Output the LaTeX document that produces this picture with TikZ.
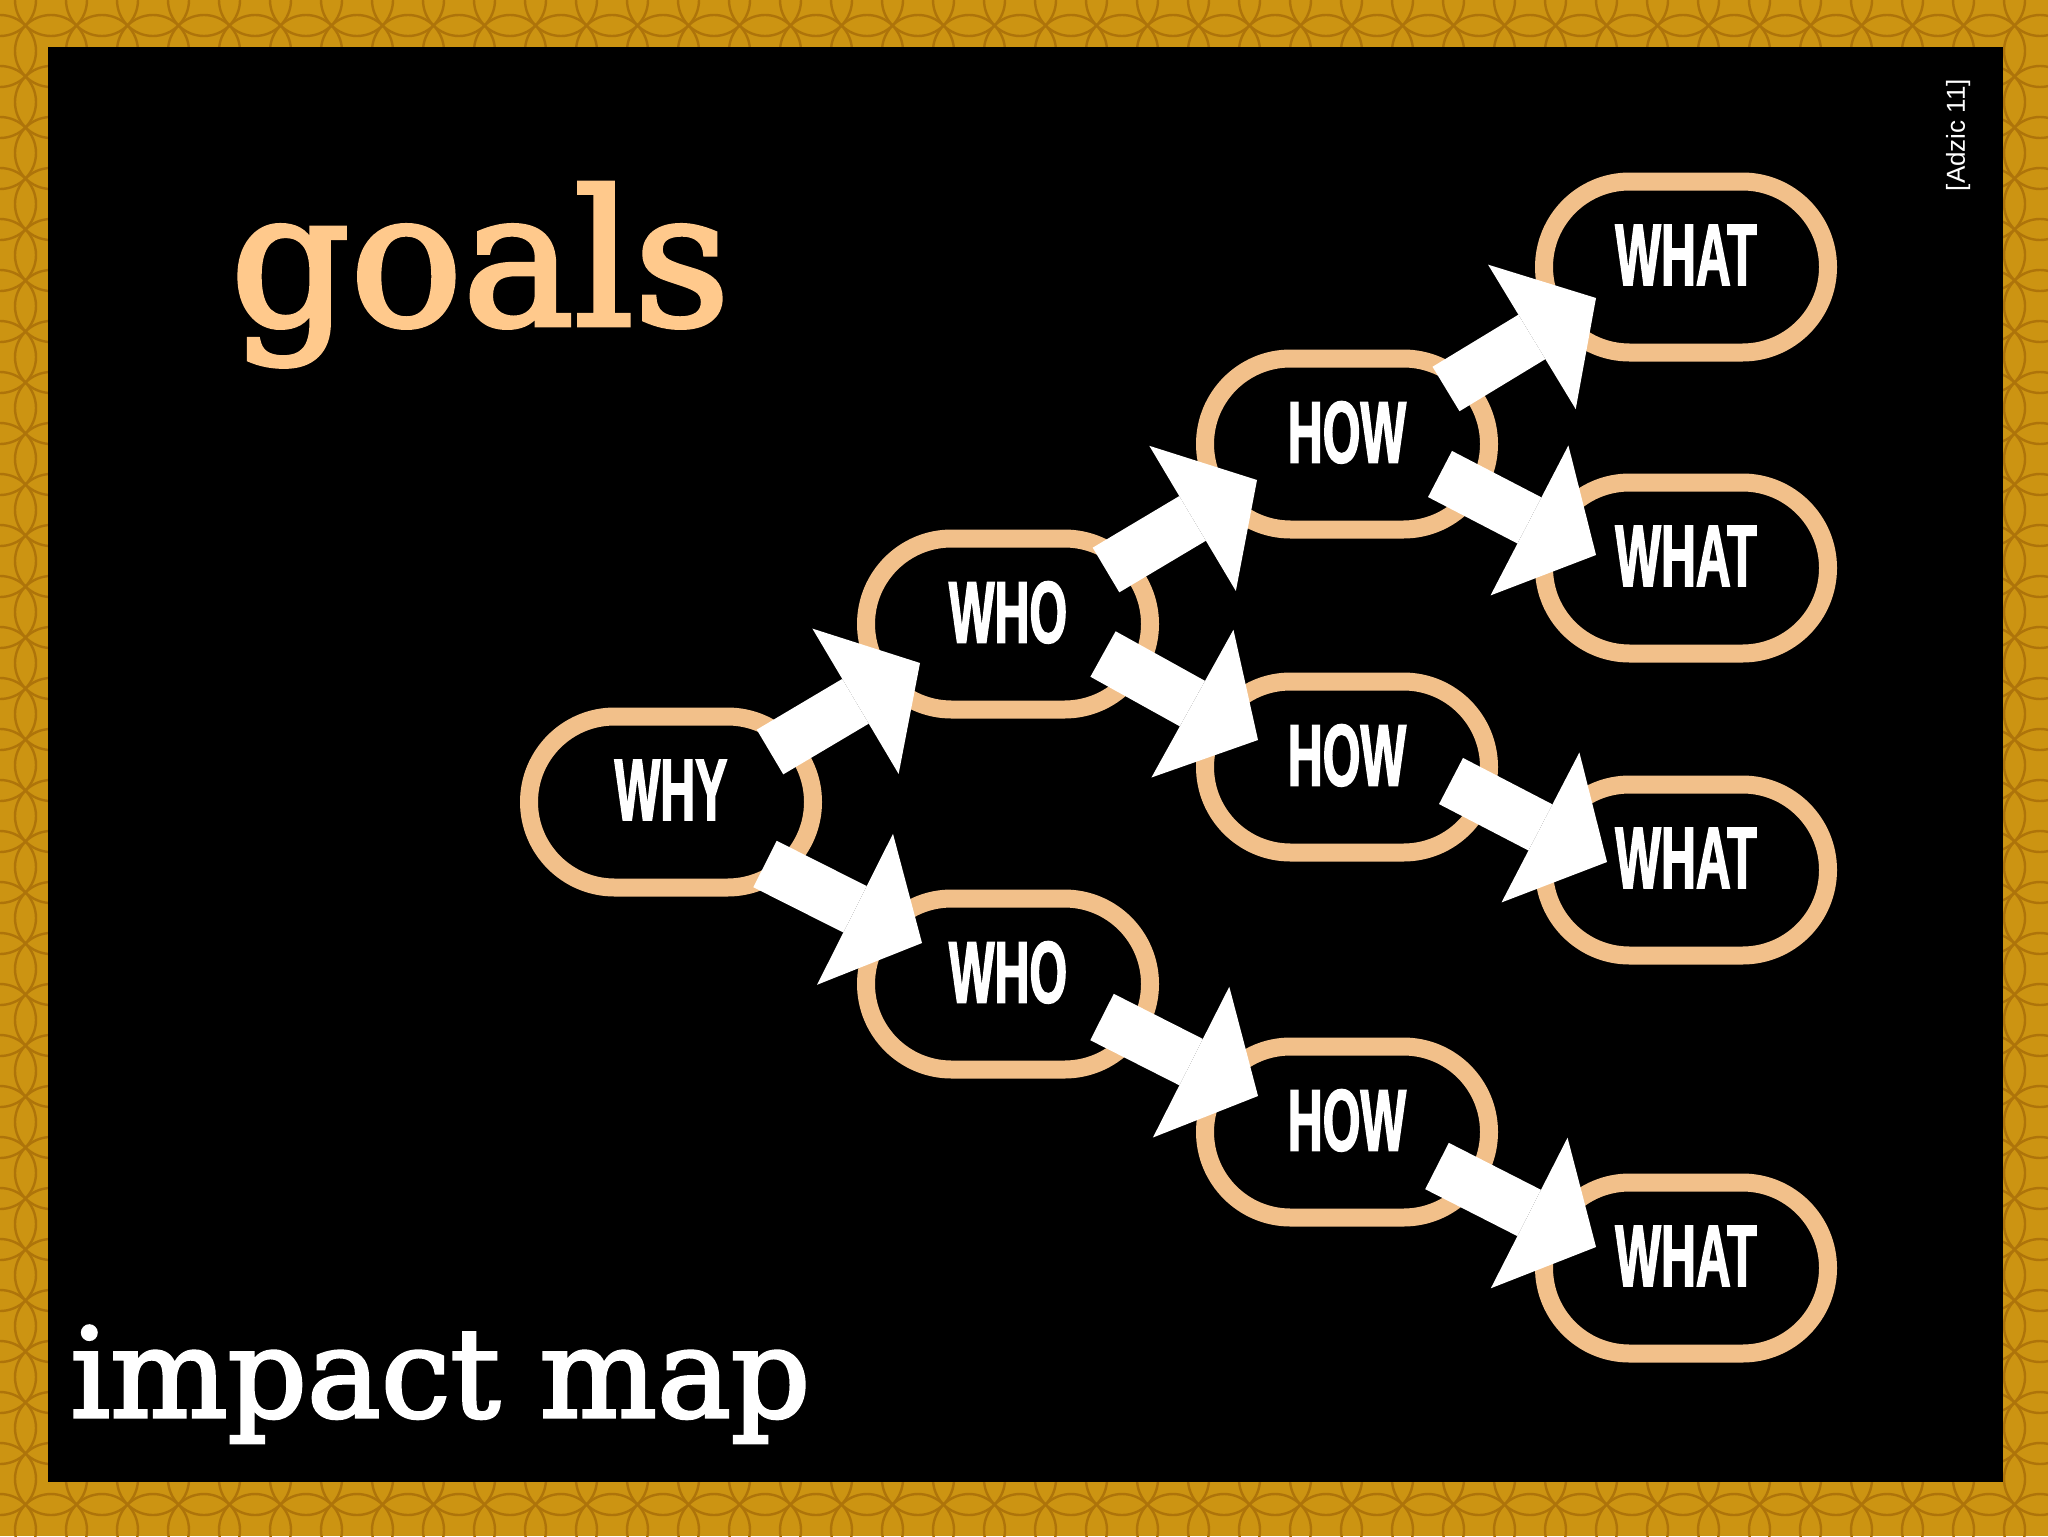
\documentclass[tikz,border=0pt]{standalone}
\usepackage{fontspec}
\usetikzlibrary{shapes.misc,arrows.meta,calc}

\newfontfamily\slabfont{DejaVu Serif}[FakeBold=2.5]
\newfontfamily\capfont{Liberation Sans Bold}[FakeStretch=0.55,FakeBold=1.5]
\newfontfamily\citefont{Liberation Sans}

\definecolor{frame}{RGB}{204,148,18}
\definecolor{framedark}{RGB}{174,116,10}
\definecolor{peach}{RGB}{242,192,138}
\definecolor{goalpeach}{RGB}{255,201,140}

\tikzset{
  impact/.style={rounded rectangle, draw=peach, line width=9pt, fill=black,
    minimum width=142pt, minimum height=85.5pt, inner sep=0pt,
    text=white, text depth=12pt, font=\capfont\fontsize{44pt}{44pt}\selectfont},
  flow/.style={draw=white, line width=26pt,
    -{Triangle[width=84.5pt,length=37.5pt,line width=0pt 0]}}
}

\begin{document}
\begin{tikzpicture}[x=0.5pt,y=-0.5pt]
    \pgfmathsetmacro{\W}{2048}
    \pgfmathsetmacro{\H}{1536}
    \pgfmathsetmacro{\tile}{51}
    \useasboundingbox (0,0) rectangle (\W,\H);

    % golden frame
    \fill[frame] (0,0) rectangle (\W,\H);
    \begin{scope}
        \clip (0,0) rectangle (\W,\H);
        \foreach \i in {0,...,41} {
            \foreach \j in {0,...,31} {
                \draw[framedark, line width=1.2pt] (\i*\tile,\j*\tile) circle[radius=36];
            }
        }
    \end{scope}

    % board
    \fill[black] (48,47) rectangle (2003,1482);

    % map nodes
    \node[impact] (why) at (671,802) {WHY};
    \node[impact] (who1) at (1008,624) {WHO};
    \node[impact] (who2) at (1008,984) {WHO};
    \node[impact] (how1) at (1347,444) {HOW};
    \node[impact] (how2) at (1347,767) {HOW};
    \node[impact] (how3) at (1347,1132) {HOW};
    \node[impact] (what1) at (1686,267) {WHAT};
    \node[impact] (what2) at (1686,568) {WHAT};
    \node[impact] (what3) at (1686,870) {WHAT};
    \node[impact] (what4) at (1686,1268) {WHAT};

    % block arrows
    \draw[flow] ($(why.center)+(99,-50)$) -- ($(who1.center)+(-88,39)$);
    \draw[flow] ($(why.center)+(94,62)$) -- ($(who2.center)+(-86,-41)$);
    \draw[flow] ($(who1.center)+(98,-54)$) -- ($(how1.center)+(-90,36)$);
    \draw[flow] ($(who1.center)+(95,30)$) -- ($(how2.center)+(-89,-27)$);
    \draw[flow] ($(who2.center)+(94,33)$) -- ($(how3.center)+(-89,-36)$);
    \draw[flow] ($(how1.center)+(99,-55)$) -- ($(what1.center)+(-90,31)$);
    \draw[flow] ($(how1.center)+(93,30)$) -- ($(what2.center)+(-90,-13)$);
    \draw[flow] ($(how2.center)+(104,14)$) -- ($(what3.center)+(-79,-8)$);
    \draw[flow] ($(how3.center)+(90,34)$) -- ($(what4.center)+(-90,-21)$);

    % titles
    \node[anchor=base west, inner sep=0pt, text=goalpeach,
          font=\slabfont\fontsize{93.5pt}{100pt}\selectfont] (goals) at (230,325) {goals};
    \node[anchor=base west, inner sep=0pt, text=white,
          font=\slabfont\fontsize{62pt}{70pt}\selectfont] (title) at (70,1417) {impact map};
    \node[rotate=90, inner sep=0pt, text=white,
          font=\citefont\fontsize{13pt}{15pt}\selectfont] (source) at (1958,135) {[Adzic 11]};
\end{tikzpicture}
\end{document}
